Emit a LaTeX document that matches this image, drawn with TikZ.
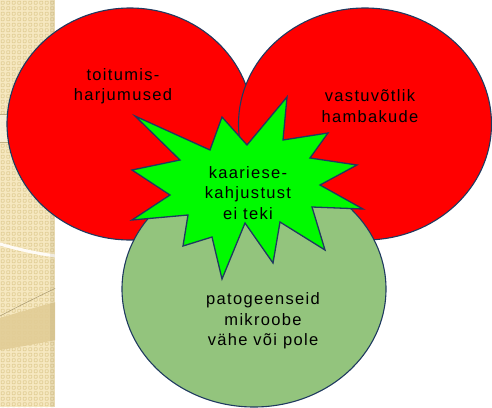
\documentclass[tikz,border=0pt]{standalone}
\usepackage{fontspec}
\setmainfont{Liberation Sans}
\newfontfamily\vennfont[LetterSpace=8]{Liberation Sans}
\usetikzlibrary{shapes.geometric}
\definecolor{vennRed}{RGB}{255,0,0}
\definecolor{vennGreen}{RGB}{147,196,125}
\definecolor{starGreen}{RGB}{0,250,0}
\definecolor{vennEdge}{RGB}{31,58,96}
\definecolor{stripBase}{RGB}{246,232,192}
\definecolor{stripTile}{RGB}{226,207,152}
\definecolor{stripBand}{RGB}{226,205,150}

\begin{document}
\begin{tikzpicture}[x=1pt, y=-1pt,
    blob/.style={ellipse, draw=vennEdge, line width=1.1pt, inner sep=0pt},
    spike/.style={draw=vennEdge, fill=starGreen, line width=1.3pt, line join=miter},
    lbl/.style={align=center, inner sep=0pt, font=\vennfont\fontsize{16.5}{20.5}\selectfont}
  ]
  \useasboundingbox (0,0) rectangle (492,407);

  % textured strip at the left
  \fill[stripBase] (0,0) rectangle (55,407);
  \begin{scope}
    \clip (0,0) rectangle (55,407);
    \foreach \i in {0,...,10}
      \foreach \j in {0,...,74}
        \draw[stripTile, line width=0.9pt, rounded corners=0.6pt]
          (\i*5.5+1.2, \j*5.5+1.2) rectangle ++(3,3);
    \fill[stripBase!50!white, opacity=0.8] (0,114) rectangle (55,142);
    \draw[stripTile!85!black, line width=0.6pt] (0,114) -- (55,114);
    \draw[stripTile!85!black, line width=0.6pt] (0,142) -- (55,142);
    \draw[white!85!stripBase, line width=3pt] (0,244) .. controls (20,250) and (40,254) .. (56,256);
    \draw[stripTile!75!black, line width=0.5pt] (56,288) .. controls (35,298) and (15,308) .. (0,316);
    \fill[stripBand, opacity=0.9] (0,318) .. controls (20,312) and (40,306) .. (56,302)
      -- (56,340) .. controls (40,343) and (20,347) .. (0,350) -- cycle;
    \fill[stripTile!70!black, opacity=0.15] (50,0) rectangle (55,407);
  \end{scope}

  % three overlapping fields
  \node[blob, fill=vennRed, minimum width=246pt, minimum height=232pt] (habits) at (130,124) {};
  \node[blob, fill=vennRed, minimum width=253pt, minimum height=232pt] (teeth)  at (365,124) {};
  \node[blob, fill=vennGreen, minimum width=264pt, minimum height=236pt] (germs) at (254,289) {};

  % star in the middle
  \draw[spike] (135,116) -- (210,150) -- (222,117) -- (247,145) -- (287,97) -- (283,140)
    -- (328,133) -- (310,158) -- (357,165) -- (320,185) -- (363,209) -- (312,207)
    -- (325,250) -- (280,222) -- (273,263) -- (245,223) -- (222,279) -- (212,237)
    -- (183,246) -- (188,215) -- (132,220) -- (170,195) -- (132,170) -- (180,160) -- cycle;

  \node[lbl] (habitsText) at (123,86)  {toitumis-\\harjumused};
  \node[lbl] (teethText)  at (370,106) {vastuvõtlik\\hambakude};
  \node[lbl] (starText)   at (248,193) {kaariese-\\kahjustust\\ei teki};
  \node[lbl] (germsText)  at (263,321) {patogeenseid\\mikroobe\\vähe või pole};
\end{tikzpicture}
\end{document}
